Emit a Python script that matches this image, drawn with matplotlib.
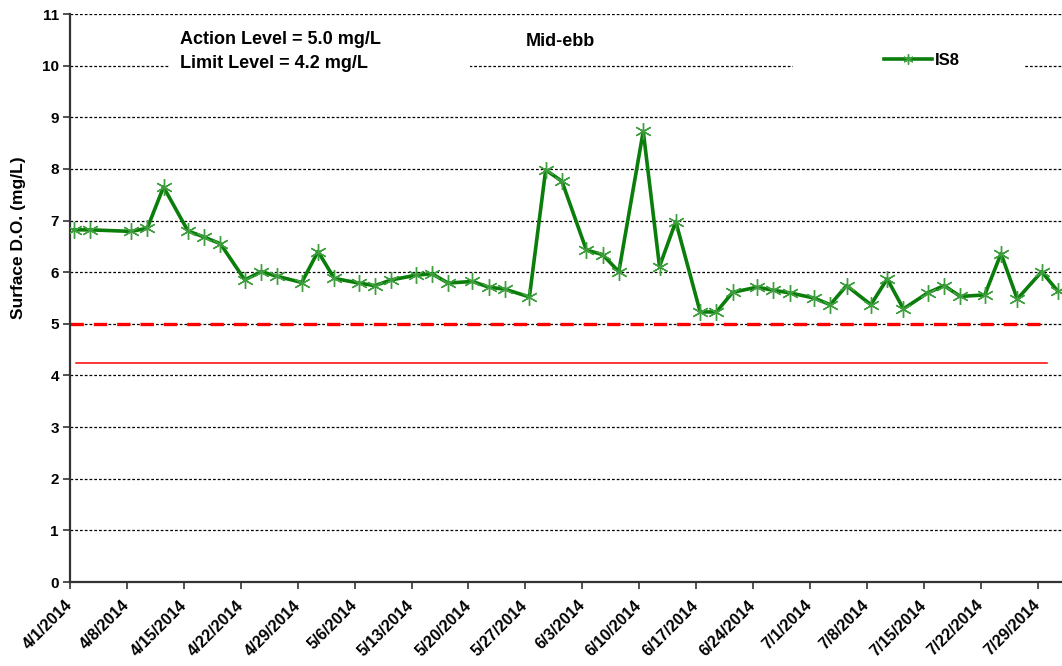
import matplotlib
matplotlib.use("Agg")
import matplotlib.pyplot as plt
import matplotlib.transforms as mtransforms
from matplotlib.patches import Rectangle
import pandas as pd

# sampling dates and surface DO readings at IS8 (mid-ebb)
dates = ["2014-04-01", "2014-04-03", "2014-04-08", "2014-04-10", "2014-04-12", "2014-04-15",
         "2014-04-17", "2014-04-19", "2014-04-22", "2014-04-24", "2014-04-26", "2014-04-29",
         "2014-05-01", "2014-05-03", "2014-05-06", "2014-05-08", "2014-05-10", "2014-05-13",
         "2014-05-15", "2014-05-17", "2014-05-20", "2014-05-22", "2014-05-24", "2014-05-27",
         "2014-05-29", "2014-05-31", "2014-06-03", "2014-06-05", "2014-06-07", "2014-06-10",
         "2014-06-12", "2014-06-14", "2014-06-17", "2014-06-19", "2014-06-21", "2014-06-24",
         "2014-06-26", "2014-06-28", "2014-07-01", "2014-07-03", "2014-07-05", "2014-07-08",
         "2014-07-10", "2014-07-12", "2014-07-15", "2014-07-17", "2014-07-19", "2014-07-22",
         "2014-07-24", "2014-07-26", "2014-07-29", "2014-07-31"]
is8 = [6.82, 6.82, 6.79, 6.85, 7.65, 6.80, 6.68, 6.55, 5.85, 6.01, 5.92, 5.80,
       6.40, 5.88, 5.79, 5.74, 5.85, 5.94, 5.97, 5.79, 5.82, 5.71, 5.67, 5.52,
       7.98, 7.76, 6.43, 6.34, 6.01, 8.73, 6.11, 6.98, 5.23, 5.23, 5.61, 5.71,
       5.65, 5.60, 5.50, 5.37, 5.74, 5.37, 5.87, 5.29, 5.60, 5.74, 5.53, 5.56,
       6.36, 5.48, 6.01, 5.63]
action_level = 5.0
limit_level = 4.25
y_ticks = list(range(0, 12))

plt.rcParams["font.family"] = ["Liberation Sans", "DejaVu Sans"]

# excel date axis puts the points in the middle of the day
x = pd.to_datetime(dates) + pd.Timedelta(hours=12)
x_ticks = pd.date_range("2014-04-01", "2014-07-29", freq="7D")

fig = plt.figure(figsize=(10.62, 6.66), dpi=100)
ax = fig.add_axes([70 / 1062, 84 / 666, 992 / 1062, 568 / 666])

ax.set_axisbelow(True)
ax.yaxis.grid(True, color="black", linestyle=(0, (2.2, 1.6)), linewidth=0.9)

ax.axhline(action_level, xmin=0, xmax=0.983, color="red", linewidth=2.4,
           dashes=(4.0, 3.0), zorder=2)
ax.axhline(limit_level, xmin=0.006, xmax=0.985, color="red", linewidth=1.1, zorder=2)

ax.plot(x, is8, color="#0a7d0a", linewidth=2.6, marker=(6, 2, 0), markersize=12,
        markeredgecolor="#3f9f3f", markeredgewidth=1.0, label="IS8", zorder=3)

# white boxes behind the text and legend (they hide the gridline at 10)
ax.add_patch(Rectangle(((170 - 70) / 992, (582 - 78) / 568), 300 / 992, 50 / 568,
                       transform=ax.transAxes, facecolor="white", edgecolor="none", zorder=1))
ax.add_patch(Rectangle(((793 - 70) / 992, (582 - 74) / 568), 232 / 992, 24 / 568,
                       transform=ax.transAxes, facecolor="white", edgecolor="none", zorder=1))

ax.text(0.111, 0.955, "Action Level = 5.0 mg/L", transform=ax.transAxes,
        fontsize=13, fontweight="bold", va="center", ha="left")
ax.text(0.111, 0.912, "Limit Level = 4.2 mg/L", transform=ax.transAxes,
        fontsize=13, fontweight="bold", va="center", ha="left")
ax.text(0.459, 0.951, "Mid-ebb", transform=ax.transAxes,
        fontsize=13, fontweight="bold", va="center", ha="left")

leg = ax.legend(loc="center left", bbox_to_anchor=(0.812, 0.918), frameon=False,
                handlelength=2.9, handletextpad=0.15, borderpad=0, markerscale=0.6,
                prop={"weight": "bold", "size": 12})

ax.set_xlim(pd.Timestamp("2014-04-01"), pd.Timestamp("2014-08-01"))
ax.set_ylim(0, 11)
ax.set_yticks(y_ticks)
ax.set_xticks(x_ticks)
ax.set_xticklabels([f"{d.month}/{d.day}/{d.year}" for d in x_ticks], rotation=45,
                   ha="right", va="center", rotation_mode="anchor",
                   fontweight="bold", fontsize=11.5)
shift = mtransforms.ScaledTranslation(6 / 100, -3 / 100, fig.dpi_scale_trans)
for lab in ax.get_xticklabels():
    lab.set_transform(lab.get_transform() + shift)
for lab in ax.get_yticklabels():
    lab.set_fontweight("bold")
    lab.set_fontsize(11)

ax.set_ylabel("Surface D.O. (mg/L)", fontsize=12.5, fontweight="bold")
ax.yaxis.set_label_coords(-0.044, 0.606)

for s in ["top", "right"]:
    ax.spines[s].set_visible(False)
for s in ["left", "bottom"]:
    ax.spines[s].set_color("#333333")
    ax.spines[s].set_linewidth(1.6)
ax.tick_params(axis="both", direction="out", length=5, width=1.2, color="#333333")
ax.tick_params(axis="y", pad=3)
ax.tick_params(axis="x", pad=10)

fig.savefig("out.png", dpi=100)
